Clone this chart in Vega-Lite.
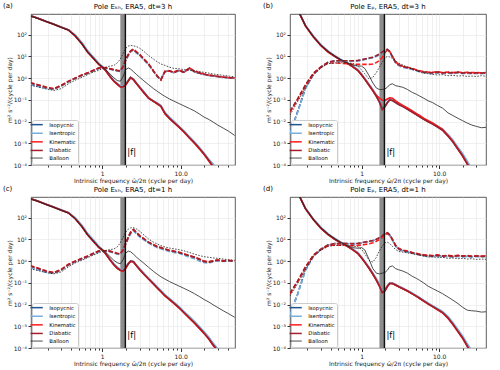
{
"$schema":"https://vega.github.io/schema/vega-lite/v6.json",
"padding":{"left":2,"top":1,"right":2,"bottom":1},
"background":"white",
"config":{
 "font":"DejaVu Sans",
 "view":{"stroke":"#333","strokeWidth":0.8},
 "title":{"font":"DejaVu Sans","fontSize":7,"fontWeight":"normal","color":"#000","offset":-8,"frame":"group"},
 "axis":{"labelFont":"DejaVu Sans","titleFont":"DejaVu Sans","labelFontSize":6,"titleFontSize":6,"titleFontWeight":"normal","labelColor":"#222","titleColor":"#222","tickColor":"#333","domain":false,"gridColor":"#e6e6e6","gridWidth":0.6,"labelPadding":1.5,"titlePadding":1},
 "legend":{"orient":"bottom-left","offset":1,"padding":2,"rowPadding":1.6,"symbolType":"M-1.75,0H1.75","symbolSize":49,"symbolStrokeWidth":1.5,"symbolFillColor":"transparent","labelFontSize":5.3,"labelFont":"DejaVu Sans","labelColor":"#000","labelOffset":10,"fillColor":"rgba(255,255,255,0.85)","strokeColor":"#cccccc","cornerRadius":2}
},
"datasets":{"d":[
{"p":"a","c":"s","f":0.12,"I":760,"S":760,"K":750,"D":755,"B":720},
{"p":"a","c":"s","f":0.15,"I":580,"S":585,"K":575,"D":578,"B":560},
{"p":"a","c":"s","f":0.19,"I":415,"S":420,"K":410,"D":412,"B":405},
{"p":"a","c":"s","f":0.24,"I":305,"S":310,"K":300,"D":302,"B":300},
{"p":"a","c":"s","f":0.3,"I":222,"S":228,"K":218,"D":220,"B":215},
{"p":"a","c":"s","f":0.37,"I":168,"S":172,"K":163,"D":165,"B":160},
{"p":"a","c":"s","f":0.45,"I":92,"S":100,"K":88,"D":90,"B":88},
{"p":"a","c":"s","f":0.55,"I":39,"S":44,"K":37,"D":38,"B":37},
{"p":"a","c":"s","f":0.65,"I":16.5,"S":18.5,"K":15.5,"D":16,"B":16},
{"p":"a","c":"s","f":0.77,"I":8.5,"S":9.5,"K":8,"D":8.2,"B":8.2},
{"p":"a","c":"s","f":0.9,"I":4.5,"S":5,"K":4.3,"D":4.4,"B":4.5},
{"p":"a","c":"s","f":1.0,"I":3.3,"S":3.5,"K":3.1,"D":3.2,"B":3.3},
{"p":"a","c":"s","f":1.1,"I":2.35,"S":2.5,"K":2.25,"D":2.3,"B":2.5},
{"p":"a","c":"s","f":1.25,"I":1.25,"S":1.35,"K":1.2,"D":1.22,"B":1.6},
{"p":"a","c":"s","f":1.4,"I":0.76,"S":0.82,"K":0.72,"D":0.74,"B":1.05},
{"p":"a","c":"s","f":1.55,"I":0.55,"S":0.58,"K":0.52,"D":0.54,"B":0.78},
{"p":"a","c":"s","f":1.7,"I":0.42,"S":0.44,"K":0.39,"D":0.4,"B":0.72},
{"p":"a","c":"s","f":1.85,"I":0.42,"S":0.44,"K":0.4,"D":0.41,"B":1.2},
{"p":"a","c":"s","f":2.0,"I":0.52,"S":0.55,"K":0.5,"D":0.5,"B":2.5},
{"p":"a","c":"s","f":2.15,"I":0.78,"S":0.8,"K":0.74,"D":0.75,"B":2.95},
{"p":"a","c":"s","f":2.3,"I":1.08,"S":1.1,"K":1.05,"D":1.06,"B":2.6},
{"p":"a","c":"s","f":2.5,"I":0.88,"S":0.9,"K":0.84,"D":0.85,"B":2.0},
{"p":"a","c":"s","f":2.75,"I":0.56,"S":0.6,"K":0.54,"D":0.55,"B":1.45},
{"p":"a","c":"s","f":3.0,"I":0.38,"S":0.4,"K":0.37,"D":0.37,"B":1.1},
{"p":"a","c":"s","f":3.4,"I":0.22,"S":0.24,"K":0.21,"D":0.22,"B":0.75},
{"p":"a","c":"s","f":3.9,"I":0.12,"S":0.13,"K":0.12,"D":0.12,"B":0.5},
{"p":"a","c":"s","f":4.5,"I":0.088,"S":0.09,"K":0.085,"D":0.086,"B":0.33},
{"p":"a","c":"s","f":5.1,"I":0.066,"S":0.07,"K":0.063,"D":0.065,"B":0.24},
{"p":"a","c":"s","f":5.6,"I":0.052,"S":0.056,"K":0.05,"D":0.051,"B":0.19},
{"p":"a","c":"s","f":6.3,"I":0.025,"S":0.027,"K":0.023,"D":0.024,"B":0.145},
{"p":"a","c":"s","f":7.2,"I":0.0145,"S":0.016,"K":0.014,"D":0.014,"B":0.11},
{"p":"a","c":"s","f":8.2,"I":0.0095,"S":0.0105,"K":0.009,"D":0.0092,"B":0.088},
{"p":"a","c":"s","f":9.5,"I":0.0058,"S":0.0062,"K":0.0055,"D":0.0057,"B":0.068},
{"p":"a","c":"s","f":11,"I":0.0035,"S":0.0038,"K":0.0033,"D":0.0034,"B":0.053},
{"p":"a","c":"s","f":13,"I":0.0019,"S":0.002,"K":0.0017,"D":0.0018,"B":0.04},
{"p":"a","c":"s","f":15,"I":0.0011,"S":0.00118,"K":0.001,"D":0.00105,"B":0.031},
{"p":"a","c":"s","f":17.5,"I":0.00058,"S":0.00062,"K":0.00054,"D":0.00056,"B":0.022},
{"p":"a","c":"s","f":20,"I":0.00033,"S":0.00035,"K":0.0003,"D":0.00031,"B":0.016},
{"p":"a","c":"s","f":23,"I":0.00017,"S":0.00018,"K":0.00015,"D":0.00016,"B":0.0125},
{"p":"a","c":"s","f":26,"I":0.0001,"S":0.00011,"K":0.00008,"D":0.000085,"B":0.0095},
{"p":"a","c":"s","f":30,"I":0.00005,"S":0.00006,"K":0.00004,"D":0.00004,"B":0.0068},
{"p":"a","c":"s","f":35,"B":0.005},
{"p":"a","c":"s","f":41,"B":0.0036},
{"p":"a","c":"s","f":49,"B":0.0023},
{"p":"a","c":"d","f":0.12,"I":0.52,"S":0.5,"K":0.62,"D":0.6,"B":0.47},
{"p":"a","c":"d","f":0.15,"I":0.43,"S":0.42,"K":0.5,"D":0.49,"B":0.4},
{"p":"a","c":"d","f":0.19,"I":0.35,"S":0.34,"K":0.39,"D":0.38,"B":0.32},
{"p":"a","c":"d","f":0.24,"I":0.31,"S":0.3,"K":0.33,"D":0.32,"B":0.27},
{"p":"a","c":"d","f":0.3,"I":0.44,"S":0.43,"K":0.47,"D":0.46,"B":0.33},
{"p":"a","c":"d","f":0.37,"I":0.68,"S":0.66,"K":0.72,"D":0.71,"B":0.55},
{"p":"a","c":"d","f":0.45,"I":0.97,"S":0.95,"K":1.0,"D":1.0,"B":0.8},
{"p":"a","c":"d","f":0.55,"I":1.35,"S":1.3,"K":1.4,"D":1.38,"B":1.1},
{"p":"a","c":"d","f":0.65,"I":1.7,"S":1.65,"K":1.75,"D":1.73,"B":1.45},
{"p":"a","c":"d","f":0.77,"I":2.2,"S":2.15,"K":2.3,"D":2.25,"B":1.9},
{"p":"a","c":"d","f":0.9,"I":2.85,"S":2.8,"K":2.95,"D":2.9,"B":2.3},
{"p":"a","c":"d","f":1.0,"I":3.0,"S":2.95,"K":3.05,"D":3.0,"B":2.7},
{"p":"a","c":"d","f":1.1,"I":2.9,"S":2.85,"K":3.0,"D":2.95,"B":3.2},
{"p":"a","c":"d","f":1.25,"I":2.65,"S":2.6,"K":2.75,"D":2.7,"B":3.6},
{"p":"a","c":"d","f":1.4,"I":2.4,"S":2.35,"K":2.5,"D":2.45,"B":3.8},
{"p":"a","c":"d","f":1.55,"I":2.2,"S":2.15,"K":2.3,"D":2.25,"B":5},
{"p":"a","c":"d","f":1.7,"I":2.1,"S":2.0,"K":2.15,"D":2.1,"B":7.5},
{"p":"a","c":"d","f":1.85,"I":3.4,"S":3.2,"K":3.6,"D":3.5,"B":14},
{"p":"a","c":"d","f":2.0,"I":7.0,"S":6.5,"K":7.5,"D":7.2,"B":24},
{"p":"a","c":"d","f":2.15,"I":11.5,"S":11,"K":12.5,"D":12,"B":30},
{"p":"a","c":"d","f":2.3,"I":17,"S":16,"K":18,"D":17.5,"B":32},
{"p":"a","c":"d","f":2.5,"I":21,"S":19,"K":22,"D":21,"B":31},
{"p":"a","c":"d","f":2.75,"I":15,"S":14,"K":16,"D":15.5,"B":28},
{"p":"a","c":"d","f":3.0,"I":12,"S":11,"K":12.5,"D":12,"B":24},
{"p":"a","c":"d","f":3.4,"I":7.3,"S":6.8,"K":7.6,"D":7.4,"B":17},
{"p":"a","c":"d","f":3.9,"I":4.4,"S":4.1,"K":4.6,"D":4.5,"B":11},
{"p":"a","c":"d","f":4.5,"I":2.1,"S":2.0,"K":2.2,"D":2.1,"B":7.5},
{"p":"a","c":"d","f":5.1,"I":1.15,"S":1.1,"K":1.2,"D":1.15,"B":5.5},
{"p":"a","c":"d","f":5.6,"I":0.85,"S":0.9,"K":0.82,"D":0.85,"B":4.5},
{"p":"a","c":"d","f":6.3,"I":2.0,"S":1.9,"K":2.1,"D":2.0,"B":3.9},
{"p":"a","c":"d","f":7.2,"I":2.2,"S":2.3,"K":2.1,"D":2.2,"B":3.2},
{"p":"a","c":"d","f":8.2,"I":1.8,"S":1.7,"K":1.9,"D":1.8,"B":2.8},
{"p":"a","c":"d","f":9.5,"I":2.3,"S":2.2,"K":2.4,"D":2.3,"B":2.7},
{"p":"a","c":"d","f":11,"I":1.9,"S":2.0,"K":1.8,"D":1.9,"B":2.5},
{"p":"a","c":"d","f":13,"I":2.8,"S":2.6,"K":3.0,"D":2.9,"B":2.3},
{"p":"a","c":"d","f":15,"I":2.0,"S":1.9,"K":2.1,"D":2.0,"B":2.2},
{"p":"a","c":"d","f":17.5,"I":1.7,"S":1.6,"K":1.8,"D":1.7,"B":2.0},
{"p":"a","c":"d","f":20,"I":1.5,"S":1.45,"K":1.55,"D":1.5,"B":1.85},
{"p":"a","c":"d","f":23,"I":1.35,"S":1.3,"K":1.4,"D":1.35,"B":1.7},
{"p":"a","c":"d","f":26,"I":1.3,"S":1.25,"K":1.3,"D":1.3,"B":1.55},
{"p":"a","c":"d","f":30,"I":1.2,"S":1.15,"K":1.2,"D":1.2,"B":1.45},
{"p":"a","c":"d","f":35,"I":1.1,"S":1.08,"K":1.12,"D":1.1,"B":1.35},
{"p":"a","c":"d","f":41,"I":1.05,"S":1.03,"K":1.06,"D":1.05,"B":1.25},
{"p":"a","c":"d","f":49,"I":1.0,"S":0.98,"K":1.02,"D":1.0,"B":1.15},
{"p":"c","c":"s","f":0.12,"I":770,"S":770,"K":760,"D":765,"B":730},
{"p":"c","c":"s","f":0.15,"I":585,"S":590,"K":580,"D":582,"B":565},
{"p":"c","c":"s","f":0.19,"I":420,"S":425,"K":415,"D":418,"B":410},
{"p":"c","c":"s","f":0.24,"I":308,"S":312,"K":302,"D":305,"B":300},
{"p":"c","c":"s","f":0.3,"I":225,"S":230,"K":220,"D":222,"B":218},
{"p":"c","c":"s","f":0.37,"I":170,"S":175,"K":165,"D":168,"B":162},
{"p":"c","c":"s","f":0.45,"I":95,"S":102,"K":90,"D":92,"B":90},
{"p":"c","c":"s","f":0.55,"I":40,"S":45,"K":38,"D":39,"B":38},
{"p":"c","c":"s","f":0.65,"I":17,"S":19,"K":16,"D":16.5,"B":16.5},
{"p":"c","c":"s","f":0.77,"I":8.6,"S":9.6,"K":8.1,"D":8.3,"B":8.4},
{"p":"c","c":"s","f":0.9,"I":4.5,"S":5,"K":4.3,"D":4.4,"B":4.6},
{"p":"c","c":"s","f":1.0,"I":3.3,"S":3.5,"K":3.1,"D":3.2,"B":3.4},
{"p":"c","c":"s","f":1.1,"I":2.3,"S":2.45,"K":2.2,"D":2.25,"B":2.6},
{"p":"c","c":"s","f":1.25,"I":1.2,"S":1.3,"K":1.15,"D":1.18,"B":1.65},
{"p":"c","c":"s","f":1.4,"I":0.72,"S":0.78,"K":0.68,"D":0.7,"B":1.1},
{"p":"c","c":"s","f":1.55,"I":0.5,"S":0.54,"K":0.47,"D":0.48,"B":0.85},
{"p":"c","c":"s","f":1.7,"I":0.39,"S":0.42,"K":0.37,"D":0.38,"B":0.75},
{"p":"c","c":"s","f":1.85,"I":0.37,"S":0.4,"K":0.35,"D":0.36,"B":1.2},
{"p":"c","c":"s","f":2.0,"I":0.5,"S":0.52,"K":0.48,"D":0.49,"B":2.4},
{"p":"c","c":"s","f":2.15,"I":0.78,"S":0.8,"K":0.75,"D":0.76,"B":2.9},
{"p":"c","c":"s","f":2.3,"I":1.0,"S":1.02,"K":0.98,"D":0.99,"B":2.7},
{"p":"c","c":"s","f":2.5,"I":0.95,"S":0.97,"K":0.92,"D":0.93,"B":2.1},
{"p":"c","c":"s","f":2.75,"I":0.62,"S":0.65,"K":0.6,"D":0.6,"B":1.5},
{"p":"c","c":"s","f":3.0,"I":0.42,"S":0.45,"K":0.41,"D":0.41,"B":1.15},
{"p":"c","c":"s","f":3.4,"I":0.26,"S":0.28,"K":0.25,"D":0.25,"B":0.8},
{"p":"c","c":"s","f":3.9,"I":0.155,"S":0.165,"K":0.15,"D":0.15,"B":0.52},
{"p":"c","c":"s","f":4.5,"I":0.092,"S":0.1,"K":0.088,"D":0.09,"B":0.34},
{"p":"c","c":"s","f":5.1,"I":0.058,"S":0.063,"K":0.055,"D":0.056,"B":0.24},
{"p":"c","c":"s","f":5.6,"I":0.041,"S":0.045,"K":0.039,"D":0.04,"B":0.19},
{"p":"c","c":"s","f":6.3,"I":0.027,"S":0.029,"K":0.025,"D":0.026,"B":0.15},
{"p":"c","c":"s","f":7.2,"I":0.018,"S":0.0195,"K":0.017,"D":0.0175,"B":0.115},
{"p":"c","c":"s","f":8.2,"I":0.012,"S":0.013,"K":0.0113,"D":0.0116,"B":0.092},
{"p":"c","c":"s","f":9.5,"I":0.0076,"S":0.0082,"K":0.0071,"D":0.0073,"B":0.072},
{"p":"c","c":"s","f":11,"I":0.0045,"S":0.0049,"K":0.0042,"D":0.0043,"B":0.056},
{"p":"c","c":"s","f":13,"I":0.0025,"S":0.0028,"K":0.0023,"D":0.0024,"B":0.042},
{"p":"c","c":"s","f":15,"I":0.0015,"S":0.0017,"K":0.0014,"D":0.00145,"B":0.032},
{"p":"c","c":"s","f":17.5,"I":0.00085,"S":0.00095,"K":0.00078,"D":0.0008,"B":0.023},
{"p":"c","c":"s","f":20,"I":0.0005,"S":0.00056,"K":0.00046,"D":0.00048,"B":0.017},
{"p":"c","c":"s","f":23,"I":0.00028,"S":0.00031,"K":0.00025,"D":0.00026,"B":0.013},
{"p":"c","c":"s","f":26,"I":0.00015,"S":0.00017,"K":0.00013,"D":0.00014,"B":0.0098},
{"p":"c","c":"s","f":30,"I":0.00008,"S":0.00009,"K":0.00007,"D":0.000072,"B":0.0072},
{"p":"c","c":"s","f":35,"B":0.0052},
{"p":"c","c":"s","f":41,"B":0.0038},
{"p":"c","c":"s","f":49,"B":0.0026},
{"p":"c","c":"d","f":0.12,"I":0.52,"S":0.5,"K":0.62,"D":0.6,"B":0.45},
{"p":"c","c":"d","f":0.15,"I":0.42,"S":0.4,"K":0.48,"D":0.47,"B":0.37},
{"p":"c","c":"d","f":0.19,"I":0.32,"S":0.31,"K":0.36,"D":0.35,"B":0.3},
{"p":"c","c":"d","f":0.24,"I":0.28,"S":0.27,"K":0.3,"D":0.29,"B":0.26},
{"p":"c","c":"d","f":0.3,"I":0.4,"S":0.38,"K":0.42,"D":0.41,"B":0.32},
{"p":"c","c":"d","f":0.37,"I":0.68,"S":0.65,"K":0.72,"D":0.7,"B":0.55},
{"p":"c","c":"d","f":0.45,"I":0.95,"S":0.92,"K":1.0,"D":0.98,"B":0.82},
{"p":"c","c":"d","f":0.55,"I":1.3,"S":1.25,"K":1.35,"D":1.32,"B":1.1},
{"p":"c","c":"d","f":0.65,"I":1.65,"S":1.6,"K":1.72,"D":1.7,"B":1.45},
{"p":"c","c":"d","f":0.77,"I":2.2,"S":2.1,"K":2.3,"D":2.25,"B":1.9},
{"p":"c","c":"d","f":0.9,"I":2.85,"S":2.7,"K":2.95,"D":2.9,"B":2.4},
{"p":"c","c":"d","f":1.0,"I":3.0,"S":2.9,"K":3.05,"D":3.0,"B":2.8},
{"p":"c","c":"d","f":1.1,"I":2.95,"S":2.85,"K":3.0,"D":2.95,"B":3.1},
{"p":"c","c":"d","f":1.25,"I":2.8,"S":2.7,"K":2.9,"D":2.85,"B":3.4},
{"p":"c","c":"d","f":1.4,"I":2.5,"S":2.4,"K":2.6,"D":2.55,"B":3.6},
{"p":"c","c":"d","f":1.55,"I":2.2,"S":2.1,"K":2.3,"D":2.25,"B":4.5},
{"p":"c","c":"d","f":1.7,"I":2.1,"S":2.0,"K":2.2,"D":2.15,"B":7},
{"p":"c","c":"d","f":1.85,"I":3.2,"S":3.0,"K":3.4,"D":3.3,"B":13},
{"p":"c","c":"d","f":2.0,"I":6.5,"S":6,"K":7,"D":6.8,"B":22},
{"p":"c","c":"d","f":2.15,"I":12,"S":11,"K":13,"D":12.5,"B":30},
{"p":"c","c":"d","f":2.3,"I":20,"S":18,"K":22,"D":21,"B":34},
{"p":"c","c":"d","f":2.5,"I":27,"S":25,"K":29,"D":28,"B":35},
{"p":"c","c":"d","f":2.75,"I":19,"S":17,"K":21,"D":20,"B":30},
{"p":"c","c":"d","f":3.0,"I":14,"S":13,"K":15,"D":14.5,"B":24},
{"p":"c","c":"d","f":3.4,"I":10,"S":9.5,"K":11,"D":10.5,"B":16},
{"p":"c","c":"d","f":3.9,"I":7.2,"S":6.8,"K":7.5,"D":7.3,"B":10.5},
{"p":"c","c":"d","f":4.5,"I":5.5,"S":5.1,"K":5.8,"D":5.6,"B":7.5},
{"p":"c","c":"d","f":5.1,"I":4.4,"S":4.1,"K":4.6,"D":4.5,"B":6},
{"p":"c","c":"d","f":5.6,"I":4.0,"S":3.7,"K":4.2,"D":4.1,"B":5.2},
{"p":"c","c":"d","f":6.3,"I":3.5,"S":3.2,"K":3.7,"D":3.6,"B":4.5},
{"p":"c","c":"d","f":7.2,"I":3.0,"S":2.8,"K":3.2,"D":3.1,"B":4.0},
{"p":"c","c":"d","f":8.2,"I":2.8,"S":2.5,"K":2.9,"D":2.8,"B":3.7},
{"p":"c","c":"d","f":9.5,"I":2.5,"S":2.3,"K":2.6,"D":2.5,"B":3.4},
{"p":"c","c":"d","f":11,"I":2.1,"S":1.9,"K":2.2,"D":2.1,"B":3.0},
{"p":"c","c":"d","f":13,"I":1.7,"S":1.5,"K":1.8,"D":1.75,"B":2.5},
{"p":"c","c":"d","f":15,"I":1.5,"S":1.3,"K":1.55,"D":1.5,"B":2.1},
{"p":"c","c":"d","f":17.5,"I":1.2,"S":1.0,"K":1.25,"D":1.2,"B":1.8},
{"p":"c","c":"d","f":20,"I":0.95,"S":0.85,"K":1.0,"D":0.95,"B":1.6},
{"p":"c","c":"d","f":23,"I":0.9,"S":0.8,"K":0.95,"D":0.9,"B":1.5},
{"p":"c","c":"d","f":26,"I":1.0,"S":0.95,"K":1.05,"D":1.0,"B":1.4},
{"p":"c","c":"d","f":30,"I":1.1,"S":1.05,"K":1.15,"D":1.1,"B":1.35},
{"p":"c","c":"d","f":35,"I":1.0,"S":0.98,"K":1.05,"D":1.0,"B":1.25},
{"p":"c","c":"d","f":41,"I":1.05,"S":1.0,"K":1.1,"D":1.05,"B":1.15},
{"p":"c","c":"d","f":49,"I":1.0,"S":0.98,"K":1.02,"D":1.0,"B":1.1},
{"p":"b","c":"s","f":0.12,"I":6000,"S":6000,"K":6000,"D":6000,"B":6000},
{"p":"b","c":"s","f":0.15,"I":1500,"S":1550,"K":1450,"D":1480,"B":1500},
{"p":"b","c":"s","f":0.19,"I":260,"S":270,"K":250,"D":255,"B":255},
{"p":"b","c":"s","f":0.24,"I":82,"S":86,"K":78,"D":80,"B":80},
{"p":"b","c":"s","f":0.3,"I":33,"S":35,"K":31,"D":32,"B":33},
{"p":"b","c":"s","f":0.37,"I":17,"S":18,"K":16,"D":16.5,"B":17},
{"p":"b","c":"s","f":0.45,"I":10.5,"S":11,"K":10,"D":10.2,"B":10.5},
{"p":"b","c":"s","f":0.55,"I":6.8,"S":7.1,"K":6.5,"D":6.6,"B":6.8},
{"p":"b","c":"s","f":0.65,"I":5.0,"S":5.2,"K":4.8,"D":4.9,"B":5.0},
{"p":"b","c":"s","f":0.77,"I":3.5,"S":3.7,"K":3.3,"D":3.4,"B":4.0},
{"p":"b","c":"s","f":0.9,"I":2.3,"S":2.45,"K":2.2,"D":2.25,"B":3.6},
{"p":"b","c":"s","f":1.0,"I":1.45,"S":1.55,"K":1.4,"D":1.42,"B":3.6},
{"p":"b","c":"s","f":1.1,"I":0.92,"S":1.0,"K":0.9,"D":0.9,"B":2.8},
{"p":"b","c":"s","f":1.25,"I":0.48,"S":0.52,"K":0.47,"D":0.47,"B":1.3},
{"p":"b","c":"s","f":1.4,"I":0.27,"S":0.3,"K":0.27,"D":0.26,"B":0.6},
{"p":"b","c":"s","f":1.55,"I":0.15,"S":0.17,"K":0.16,"D":0.145,"B":0.35},
{"p":"b","c":"s","f":1.7,"I":0.08,"S":0.11,"K":0.12,"D":0.078,"B":0.3},
{"p":"b","c":"s","f":1.85,"I":0.038,"S":0.085,"K":0.095,"D":0.036,"B":0.3},
{"p":"b","c":"s","f":2.0,"I":0.05,"S":0.09,"K":0.095,"D":0.048,"B":0.32},
{"p":"b","c":"s","f":2.15,"I":0.075,"S":0.105,"K":0.11,"D":0.073,"B":0.38},
{"p":"b","c":"s","f":2.3,"I":0.1,"S":0.12,"K":0.125,"D":0.098,"B":0.5},
{"p":"b","c":"s","f":2.5,"I":0.095,"S":0.112,"K":0.12,"D":0.093,"B":0.55},
{"p":"b","c":"s","f":2.75,"I":0.076,"S":0.088,"K":0.09,"D":0.074,"B":0.45},
{"p":"b","c":"s","f":3.0,"I":0.063,"S":0.07,"K":0.072,"D":0.061,"B":0.42},
{"p":"b","c":"s","f":3.4,"I":0.05,"S":0.054,"K":0.056,"D":0.049,"B":0.38},
{"p":"b","c":"s","f":3.9,"I":0.038,"S":0.04,"K":0.042,"D":0.037,"B":0.3},
{"p":"b","c":"s","f":4.5,"I":0.028,"S":0.03,"K":0.031,"D":0.027,"B":0.22},
{"p":"b","c":"s","f":5.1,"I":0.021,"S":0.023,"K":0.023,"D":0.0205,"B":0.18},
{"p":"b","c":"s","f":5.6,"I":0.017,"S":0.018,"K":0.019,"D":0.0165,"B":0.15},
{"p":"b","c":"s","f":6.3,"I":0.013,"S":0.014,"K":0.0145,"D":0.0127,"B":0.12},
{"p":"b","c":"s","f":7.2,"I":0.01,"S":0.011,"K":0.011,"D":0.0098,"B":0.09},
{"p":"b","c":"s","f":8.2,"I":0.0078,"S":0.0085,"K":0.0086,"D":0.0076,"B":0.075},
{"p":"b","c":"s","f":9.5,"I":0.0058,"S":0.0063,"K":0.0062,"D":0.0056,"B":0.055},
{"p":"b","c":"s","f":11,"I":0.0042,"S":0.0046,"K":0.0044,"D":0.004,"B":0.042},
{"p":"b","c":"s","f":13,"I":0.0022,"S":0.0025,"K":0.0023,"D":0.0021,"B":0.025},
{"p":"b","c":"s","f":15,"I":0.0012,"S":0.0014,"K":0.0012,"D":0.00115,"B":0.019},
{"p":"b","c":"s","f":17.5,"I":0.00055,"S":0.00065,"K":0.00053,"D":0.00052,"B":0.014},
{"p":"b","c":"s","f":20,"I":0.00028,"S":0.00034,"K":0.00026,"D":0.00026,"B":0.011},
{"p":"b","c":"s","f":23,"I":0.00012,"S":0.00015,"K":0.00011,"D":0.00011,"B":0.0085},
{"p":"b","c":"s","f":26,"I":0.00006,"S":0.00007,"K":0.00005,"D":0.00005,"B":0.007},
{"p":"b","c":"s","f":30,"B":0.006},
{"p":"b","c":"s","f":35,"B":0.0052},
{"p":"b","c":"s","f":41,"B":0.0055},
{"p":"b","c":"d","f":0.12,"I":0.003,"S":0.0028,"K":0.027,"D":0.03,"B":0.02},
{"p":"b","c":"d","f":0.15,"I":0.028,"S":0.026,"K":0.1,"D":0.11,"B":0.08},
{"p":"b","c":"d","f":0.19,"I":0.35,"S":0.33,"K":0.45,"D":0.5,"B":0.35},
{"p":"b","c":"d","f":0.24,"I":1.5,"S":1.45,"K":1.6,"D":1.7,"B":1.4},
{"p":"b","c":"d","f":0.3,"I":3.2,"S":3.1,"K":3.2,"D":3.3,"B":3.0},
{"p":"b","c":"d","f":0.37,"I":5.3,"S":5.2,"K":5.0,"D":5.4,"B":4.6},
{"p":"b","c":"d","f":0.45,"I":6.2,"S":6.1,"K":5.0,"D":6.3,"B":5.0},
{"p":"b","c":"d","f":0.55,"I":6.3,"S":6.2,"K":4.8,"D":6.4,"B":5.2},
{"p":"b","c":"d","f":0.65,"I":6.2,"S":6.0,"K":4.6,"D":6.3,"B":5.0},
{"p":"b","c":"d","f":0.77,"I":6.2,"S":6.0,"K":4.4,"D":6.3,"B":4.8},
{"p":"b","c":"d","f":0.9,"I":6.4,"S":6.2,"K":4.3,"D":6.5,"B":3.6},
{"p":"b","c":"d","f":1.0,"I":6.8,"S":6.6,"K":4.3,"D":7.0,"B":2.4},
{"p":"b","c":"d","f":1.1,"I":7.4,"S":7.2,"K":4.3,"D":7.6,"B":1.6},
{"p":"b","c":"d","f":1.25,"I":8.2,"S":8.0,"K":4.3,"D":8.4,"B":0.9},
{"p":"b","c":"d","f":1.4,"I":9.0,"S":8.8,"K":4.5,"D":9.2,"B":1.1},
{"p":"b","c":"d","f":1.55,"I":10.5,"S":10,"K":5.2,"D":10.8,"B":1.8},
{"p":"b","c":"d","f":1.7,"I":12.5,"S":12,"K":6.5,"D":13,"B":3.2},
{"p":"b","c":"d","f":1.85,"I":15.5,"S":15,"K":9,"D":16,"B":5.5},
{"p":"b","c":"d","f":2.0,"I":19,"S":18,"K":15,"D":19.5,"B":8.5},
{"p":"b","c":"d","f":2.15,"I":21,"S":20,"K":20,"D":21,"B":10},
{"p":"b","c":"d","f":2.3,"I":17,"S":16,"K":17,"D":17,"B":9.5},
{"p":"b","c":"d","f":2.5,"I":9.5,"S":9,"K":10,"D":9.8,"B":8.0},
{"p":"b","c":"d","f":2.75,"I":5.2,"S":5,"K":5.5,"D":5.3,"B":6.2},
{"p":"b","c":"d","f":3.0,"I":4.0,"S":3.8,"K":4.3,"D":4.1,"B":5.0},
{"p":"b","c":"d","f":3.4,"I":3.3,"S":3.1,"K":3.5,"D":3.4,"B":4.0},
{"p":"b","c":"d","f":3.9,"I":3.0,"S":2.8,"K":3.2,"D":3.0,"B":3.2},
{"p":"b","c":"d","f":4.5,"I":2.6,"S":2.5,"K":2.8,"D":2.7,"B":2.6},
{"p":"b","c":"d","f":5.1,"I":2.3,"S":2.2,"K":2.4,"D":2.3,"B":2.2},
{"p":"b","c":"d","f":5.6,"I":2.1,"S":2.0,"K":2.2,"D":2.1,"B":1.9},
{"p":"b","c":"d","f":6.3,"I":1.9,"S":1.8,"K":2.0,"D":1.9,"B":1.7},
{"p":"b","c":"d","f":7.2,"I":1.8,"S":1.7,"K":1.9,"D":1.85,"B":1.6},
{"p":"b","c":"d","f":8.2,"I":1.7,"S":1.6,"K":1.85,"D":1.75,"B":1.5},
{"p":"b","c":"d","f":9.5,"I":1.9,"S":1.8,"K":2.0,"D":1.9,"B":1.4},
{"p":"b","c":"d","f":11,"I":1.7,"S":1.6,"K":1.8,"D":1.75,"B":1.45},
{"p":"b","c":"d","f":13,"I":1.8,"S":1.7,"K":1.9,"D":1.8,"B":1.3},
{"p":"b","c":"d","f":15,"I":1.7,"S":1.6,"K":1.8,"D":1.75,"B":1.35},
{"p":"b","c":"d","f":17.5,"I":1.85,"S":1.75,"K":1.9,"D":1.85,"B":1.25},
{"p":"b","c":"d","f":20,"I":1.7,"S":1.6,"K":1.8,"D":1.7,"B":1.3},
{"p":"b","c":"d","f":23,"I":1.75,"S":1.65,"K":1.85,"D":1.8,"B":1.2},
{"p":"b","c":"d","f":26,"I":1.7,"S":1.6,"K":1.8,"D":1.7,"B":1.25},
{"p":"b","c":"d","f":30,"I":1.75,"S":1.65,"K":1.8,"D":1.75,"B":1.2},
{"p":"b","c":"d","f":35,"I":1.7,"S":1.6,"K":1.75,"D":1.7,"B":1.3},
{"p":"b","c":"d","f":41,"I":1.75,"S":1.65,"K":1.8,"D":1.75,"B":1.2},
{"p":"d","c":"s","f":0.12,"I":6000,"S":6000,"K":6000,"D":6000,"B":6000},
{"p":"d","c":"s","f":0.15,"I":1500,"S":1550,"K":1450,"D":1480,"B":1500},
{"p":"d","c":"s","f":0.19,"I":265,"S":275,"K":255,"D":260,"B":260},
{"p":"d","c":"s","f":0.24,"I":84,"S":88,"K":80,"D":82,"B":82},
{"p":"d","c":"s","f":0.3,"I":34,"S":36,"K":32,"D":33,"B":34},
{"p":"d","c":"s","f":0.37,"I":17.5,"S":18.5,"K":16.5,"D":17,"B":17.5},
{"p":"d","c":"s","f":0.45,"I":10.8,"S":11.3,"K":10.2,"D":10.5,"B":10.8},
{"p":"d","c":"s","f":0.55,"I":7,"S":7.3,"K":6.7,"D":6.8,"B":7},
{"p":"d","c":"s","f":0.65,"I":5.1,"S":5.3,"K":4.9,"D":5,"B":5.1},
{"p":"d","c":"s","f":0.77,"I":3.5,"S":3.7,"K":3.3,"D":3.4,"B":4.2},
{"p":"d","c":"s","f":0.9,"I":2.3,"S":2.45,"K":2.2,"D":2.25,"B":3.9},
{"p":"d","c":"s","f":1.0,"I":1.45,"S":1.55,"K":1.4,"D":1.42,"B":4.2},
{"p":"d","c":"s","f":1.1,"I":0.92,"S":1.0,"K":0.9,"D":0.9,"B":3.3},
{"p":"d","c":"s","f":1.25,"I":0.48,"S":0.52,"K":0.47,"D":0.47,"B":1.2},
{"p":"d","c":"s","f":1.4,"I":0.26,"S":0.29,"K":0.25,"D":0.25,"B":0.45},
{"p":"d","c":"s","f":1.55,"I":0.14,"S":0.16,"K":0.135,"D":0.135,"B":0.28},
{"p":"d","c":"s","f":1.7,"I":0.075,"S":0.085,"K":0.07,"D":0.072,"B":0.26},
{"p":"d","c":"s","f":1.85,"I":0.038,"S":0.042,"K":0.036,"D":0.036,"B":0.28},
{"p":"d","c":"s","f":2.0,"I":0.045,"S":0.048,"K":0.043,"D":0.044,"B":0.3},
{"p":"d","c":"s","f":2.15,"I":0.07,"S":0.073,"K":0.068,"D":0.069,"B":0.38},
{"p":"d","c":"s","f":2.3,"I":0.095,"S":0.1,"K":0.093,"D":0.094,"B":0.55},
{"p":"d","c":"s","f":2.5,"I":0.095,"S":0.1,"K":0.093,"D":0.094,"B":0.6},
{"p":"d","c":"s","f":2.75,"I":0.08,"S":0.084,"K":0.078,"D":0.079,"B":0.45},
{"p":"d","c":"s","f":3.0,"I":0.068,"S":0.072,"K":0.066,"D":0.067,"B":0.4},
{"p":"d","c":"s","f":3.4,"I":0.055,"S":0.058,"K":0.054,"D":0.054,"B":0.35},
{"p":"d","c":"s","f":3.9,"I":0.043,"S":0.045,"K":0.042,"D":0.042,"B":0.28},
{"p":"d","c":"s","f":4.5,"I":0.032,"S":0.034,"K":0.031,"D":0.031,"B":0.2},
{"p":"d","c":"s","f":5.1,"I":0.025,"S":0.026,"K":0.024,"D":0.024,"B":0.16},
{"p":"d","c":"s","f":5.6,"I":0.02,"S":0.021,"K":0.019,"D":0.0195,"B":0.13},
{"p":"d","c":"s","f":6.3,"I":0.015,"S":0.016,"K":0.0145,"D":0.0147,"B":0.1},
{"p":"d","c":"s","f":7.2,"I":0.011,"S":0.012,"K":0.0105,"D":0.0107,"B":0.07},
{"p":"d","c":"s","f":8.2,"I":0.0085,"S":0.009,"K":0.008,"D":0.0082,"B":0.055},
{"p":"d","c":"s","f":9.5,"I":0.0062,"S":0.0066,"K":0.0058,"D":0.006,"B":0.042},
{"p":"d","c":"s","f":11,"I":0.0045,"S":0.0048,"K":0.0042,"D":0.0043,"B":0.032},
{"p":"d","c":"s","f":13,"I":0.0025,"S":0.0028,"K":0.0023,"D":0.0024,"B":0.022},
{"p":"d","c":"s","f":15,"I":0.0013,"S":0.0015,"K":0.0012,"D":0.00125,"B":0.016},
{"p":"d","c":"s","f":17.5,"I":0.0006,"S":0.0007,"K":0.00055,"D":0.00057,"B":0.011},
{"p":"d","c":"s","f":20,"I":0.0003,"S":0.00036,"K":0.00028,"D":0.00029,"B":0.0075},
{"p":"d","c":"s","f":23,"I":0.00013,"S":0.00016,"K":0.00012,"D":0.00012,"B":0.0055},
{"p":"d","c":"s","f":26,"I":0.00006,"S":0.00008,"K":0.00005,"D":0.00005,"B":0.0052},
{"p":"d","c":"s","f":30,"B":0.005},
{"p":"d","c":"s","f":35,"B":0.0045},
{"p":"d","c":"s","f":41,"B":0.0047},
{"p":"d","c":"d","f":0.12,"I":0.0037,"S":0.0035,"K":0.031,"D":0.033,"B":0.025},
{"p":"d","c":"d","f":0.15,"I":0.03,"S":0.028,"K":0.11,"D":0.12,"B":0.09},
{"p":"d","c":"d","f":0.19,"I":0.4,"S":0.38,"K":0.5,"D":0.55,"B":0.4},
{"p":"d","c":"d","f":0.24,"I":1.7,"S":1.6,"K":1.8,"D":1.9,"B":1.6},
{"p":"d","c":"d","f":0.3,"I":3.5,"S":3.4,"K":3.4,"D":3.6,"B":3.2},
{"p":"d","c":"d","f":0.37,"I":5.5,"S":5.4,"K":5.1,"D":5.6,"B":4.8},
{"p":"d","c":"d","f":0.45,"I":6.4,"S":6.3,"K":5.5,"D":6.5,"B":5.3},
{"p":"d","c":"d","f":0.55,"I":6.5,"S":6.4,"K":5.4,"D":6.6,"B":5.4},
{"p":"d","c":"d","f":0.65,"I":6.4,"S":6.3,"K":5.3,"D":6.5,"B":5.2},
{"p":"d","c":"d","f":0.77,"I":6.3,"S":6.2,"K":5.2,"D":6.4,"B":5.0},
{"p":"d","c":"d","f":0.9,"I":6.5,"S":6.4,"K":5.3,"D":6.6,"B":4.5},
{"p":"d","c":"d","f":1.0,"I":6.9,"S":6.7,"K":5.5,"D":7.0,"B":3.5},
{"p":"d","c":"d","f":1.1,"I":7.4,"S":7.2,"K":5.8,"D":7.6,"B":2.2},
{"p":"d","c":"d","f":1.25,"I":8.0,"S":7.8,"K":6.3,"D":8.2,"B":1.1},
{"p":"d","c":"d","f":1.4,"I":8.8,"S":8.6,"K":7.0,"D":9.0,"B":0.9},
{"p":"d","c":"d","f":1.55,"I":10,"S":9.7,"K":8.2,"D":10.3,"B":1.5},
{"p":"d","c":"d","f":1.7,"I":11.5,"S":11,"K":9.8,"D":12,"B":3.0},
{"p":"d","c":"d","f":1.85,"I":14,"S":13.5,"K":12.5,"D":14.5,"B":5.0},
{"p":"d","c":"d","f":2.0,"I":18,"S":17,"K":16.5,"D":18.5,"B":7.0},
{"p":"d","c":"d","f":2.15,"I":20,"S":19,"K":19,"D":20.5,"B":7.5},
{"p":"d","c":"d","f":2.3,"I":16,"S":15,"K":16,"D":16.5,"B":6.5},
{"p":"d","c":"d","f":2.5,"I":9.5,"S":9,"K":10,"D":9.8,"B":4.8},
{"p":"d","c":"d","f":2.75,"I":5.0,"S":4.8,"K":5.3,"D":5.1,"B":3.4},
{"p":"d","c":"d","f":3.0,"I":3.6,"S":3.5,"K":3.9,"D":3.7,"B":2.8},
{"p":"d","c":"d","f":3.4,"I":3.0,"S":2.9,"K":3.2,"D":3.1,"B":2.6},
{"p":"d","c":"d","f":3.9,"I":2.7,"S":2.6,"K":2.9,"D":2.8,"B":2.4},
{"p":"d","c":"d","f":4.5,"I":2.4,"S":2.3,"K":2.5,"D":2.4,"B":2.2},
{"p":"d","c":"d","f":5.1,"I":2.2,"S":2.1,"K":2.3,"D":2.2,"B":2.0},
{"p":"d","c":"d","f":5.6,"I":2.0,"S":1.9,"K":2.1,"D":2.0,"B":1.9},
{"p":"d","c":"d","f":6.3,"I":1.85,"S":1.75,"K":1.95,"D":1.9,"B":1.7},
{"p":"d","c":"d","f":7.2,"I":1.75,"S":1.65,"K":1.85,"D":1.8,"B":1.55},
{"p":"d","c":"d","f":8.2,"I":1.7,"S":1.6,"K":1.8,"D":1.75,"B":1.6},
{"p":"d","c":"d","f":9.5,"I":1.8,"S":1.7,"K":1.95,"D":1.85,"B":1.45},
{"p":"d","c":"d","f":11,"I":1.65,"S":1.55,"K":1.75,"D":1.7,"B":1.5},
{"p":"d","c":"d","f":13,"I":1.75,"S":1.65,"K":1.85,"D":1.8,"B":1.35},
{"p":"d","c":"d","f":15,"I":1.6,"S":1.5,"K":1.7,"D":1.65,"B":1.4},
{"p":"d","c":"d","f":17.5,"I":1.75,"S":1.65,"K":1.85,"D":1.8,"B":1.3},
{"p":"d","c":"d","f":20,"I":1.65,"S":1.55,"K":1.75,"D":1.7,"B":1.35},
{"p":"d","c":"d","f":23,"I":1.7,"S":1.6,"K":1.8,"D":1.75,"B":1.25},
{"p":"d","c":"d","f":26,"I":1.6,"S":1.55,"K":1.7,"D":1.65,"B":1.3},
{"p":"d","c":"d","f":30,"I":1.7,"S":1.6,"K":1.75,"D":1.7,"B":1.2},
{"p":"d","c":"d","f":35,"I":1.65,"S":1.55,"K":1.7,"D":1.65,"B":1.25},
{"p":"d","c":"d","f":41,"I":1.7,"S":1.6,"K":1.75,"D":1.7,"B":1.2}
]},
"spacing":0,
"resolve":{"scale":{"color":"independent"}},
"vconcat":[
{"hconcat":[
{"width":204,"height":151,"title":"Pole Eₖₕ, ERA5, dt=3 h","data":{"name":"d"},
 "layer":[
  {"data":{"values":[{"f":1.7,"f2":1.95}]},"mark":{"type":"rect","color":"#8c8c8c"},"encoding":{"x":{"field":"f","type":"quantitative","scale":{"type":"log","domain":[0.123,49.5],"nice":false}},"x2":{"field":"f2"}}},
  {"transform":[{"filter":"datum.p=='a' && datum.c=='s'"},{"fold":["I","S","K","D"],"as":["m","v"]},{"filter":"datum.v>0"}],
   "mark":{"type":"line","strokeWidth":1.6,"clip":true},
   "encoding":{"x":{"field":"f","type":"quantitative","scale":{"type":"log","domain":[0.123,49.5],"nice":false},"axis":{"title":"Intrinsic frequency ω̂/2π (cycle per day)","values":[0.2,0.3,0.4,0.5,0.6,0.7,0.8,0.9,1,2,3,4,5,6,7,8,9,10,20,30,40],"labelExpr":"datum.value==1?'1':datum.value==10?'10.0':''","tickSize":{"condition":{"test":"datum.value==1||datum.value==10","value":3.5},"value":2}}},
    "y":{"field":"v","type":"quantitative","scale":{"type":"log","domain":[0.0001,900],"nice":false},"axis":{"title":"m² s⁻²/(cycle per day)","values":[0.0001,0.001,0.01,0.1,1,10,100],"tickSize":3,"labelExpr":"datum.value==100?'10²':datum.value==10?'10¹':datum.value==1?'10⁰':datum.value==0.1?'10⁻¹':datum.value==0.01?'10⁻²':datum.value==0.001?'10⁻³':'10⁻⁴'"}},
    "color":{"field":"m","type":"nominal","scale":{"domain":["I","S","K","D","B"],"range":["#1f5591","#78aedb","#ff1a1a","#a31f29","#222222"]},"legend":{"title":null,"labelExpr":"datum.label=='I'?'Isopycnic':datum.label=='S'?'Isentropic':datum.label=='K'?'Kinematic':datum.label=='D'?'Diabatic':'Balloon'","encode":{"symbols":{"update":{"strokeWidth":{"signal":"datum.value=='B'?0.8:1.5"}}}}}}}},
  {"transform":[{"filter":"datum.p=='a' && datum.c=='d'"},{"fold":["I","S","K","D"],"as":["m","v"]},{"filter":"datum.v>0"}],
   "mark":{"type":"line","strokeWidth":1.6,"strokeDash":[4.5,2],"clip":true},
   "encoding":{"x":{"field":"f","type":"quantitative","scale":{"type":"log","domain":[0.123,49.5],"nice":false}},"y":{"field":"v","type":"quantitative","scale":{"type":"log","domain":[0.0001,900],"nice":false}},"color":{"field":"m","type":"nominal"}}},
  {"transform":[{"filter":"datum.p=='a' && datum.c=='s'"},{"fold":["B"],"as":["m","v"]},{"filter":"datum.v>0"}],
   "mark":{"type":"line","strokeWidth":0.8,"clip":true},
   "encoding":{"x":{"field":"f","type":"quantitative","scale":{"type":"log","domain":[0.123,49.5],"nice":false}},"y":{"field":"v","type":"quantitative","scale":{"type":"log","domain":[0.0001,900],"nice":false}},"color":{"field":"m","type":"nominal"}}},
  {"transform":[{"filter":"datum.p=='a' && datum.c=='d'"},{"fold":["B"],"as":["m","v"]},{"filter":"datum.v>0"}],
   "mark":{"type":"line","strokeWidth":0.8,"strokeDash":[1.6,1.4],"clip":true},
   "encoding":{"x":{"field":"f","type":"quantitative","scale":{"type":"log","domain":[0.123,49.5],"nice":false}},"y":{"field":"v","type":"quantitative","scale":{"type":"log","domain":[0.0001,900],"nice":false}},"color":{"field":"m","type":"nominal"}}},
  {"data":{"values":[{"f":1.97}]},"mark":{"type":"rule","color":"#111","strokeWidth":1.4},"encoding":{"x":{"field":"f","type":"quantitative","scale":{"type":"log","domain":[0.123,49.5],"nice":false}}}},
  {"data":{"values":[{"f":1.97,"v":0.0004,"t":"|f|"}]},"mark":{"type":"text","align":"left","baseline":"middle","dx":2,"fontSize":8.5,"font":"DejaVu Sans"},"encoding":{"x":{"field":"f","type":"quantitative","scale":{"type":"log","domain":[0.123,49.5],"nice":false}},"y":{"field":"v","type":"quantitative","scale":{"type":"log","domain":[0.0001,900],"nice":false}},"text":{"field":"t"}}},
  {"data":{"values":[{"f":0.123,"v":900,"t":"(a)"}]},"mark":{"type":"text","align":"left","baseline":"middle","dx":-28,"dy":-8,"fontSize":7,"font":"DejaVu Sans","clip":false},"encoding":{"x":{"field":"f","type":"quantitative","scale":{"type":"log","domain":[0.123,49.5],"nice":false}},"y":{"field":"v","type":"quantitative","scale":{"type":"log","domain":[0.0001,900],"nice":false}},"text":{"field":"t"}}}
 ]},
{"width":196,"height":151,"title":"Pole Eₚ, ERA5, dt=3 h","data":{"name":"d"},
 "layer":[
  {"data":{"values":[{"f":1.7,"f2":1.95}]},"mark":{"type":"rect","color":"#8c8c8c"},"encoding":{"x":{"field":"f","type":"quantitative","scale":{"type":"log","domain":[0.12,40],"nice":false}},"x2":{"field":"f2"}}},
  {"transform":[{"filter":"datum.p=='b' && datum.c=='s'"},{"fold":["I","S","K","D"],"as":["m","v"]},{"filter":"datum.v>0"}],
   "mark":{"type":"line","strokeWidth":1.6,"clip":true},
   "encoding":{"x":{"field":"f","type":"quantitative","scale":{"type":"log","domain":[0.12,40],"nice":false},"axis":{"title":"Intrinsic frequency ω̂/2π (cycle per day)","values":[0.2,0.3,0.4,0.5,0.6,0.7,0.8,0.9,1,2,3,4,5,6,7,8,9,10,20,30],"labelExpr":"datum.value==1?'1':datum.value==10?'10.0':''","tickSize":{"condition":{"test":"datum.value==1||datum.value==10","value":3.5},"value":2}}},
    "y":{"field":"v","type":"quantitative","scale":{"type":"log","domain":[0.0001,900],"nice":false},"axis":{"title":"m² s⁻²/(cycle per day)","values":[0.0001,0.001,0.01,0.1,1,10,100],"tickSize":3,"labelExpr":"datum.value==100?'10²':datum.value==10?'10¹':datum.value==1?'10⁰':datum.value==0.1?'10⁻¹':datum.value==0.01?'10⁻²':datum.value==0.001?'10⁻³':'10⁻⁴'"}},
    "color":{"field":"m","type":"nominal","scale":{"domain":["I","S","K","D","B"],"range":["#1f5591","#78aedb","#ff1a1a","#a31f29","#222222"]},"legend":{"title":null,"labelExpr":"datum.label=='I'?'Isopycnic':datum.label=='S'?'Isentropic':datum.label=='K'?'Kinematic':datum.label=='D'?'Diabatic':'Balloon'","encode":{"symbols":{"update":{"strokeWidth":{"signal":"datum.value=='B'?0.8:1.5"}}}}}}}},
  {"transform":[{"filter":"datum.p=='b' && datum.c=='d'"},{"fold":["I","S","K","D"],"as":["m","v"]},{"filter":"datum.v>0"}],
   "mark":{"type":"line","strokeWidth":1.6,"strokeDash":[4.5,2],"clip":true},
   "encoding":{"x":{"field":"f","type":"quantitative","scale":{"type":"log","domain":[0.12,40],"nice":false}},"y":{"field":"v","type":"quantitative","scale":{"type":"log","domain":[0.0001,900],"nice":false}},"color":{"field":"m","type":"nominal"}}},
  {"transform":[{"filter":"datum.p=='b' && datum.c=='s'"},{"fold":["B"],"as":["m","v"]},{"filter":"datum.v>0"}],
   "mark":{"type":"line","strokeWidth":0.8,"clip":true},
   "encoding":{"x":{"field":"f","type":"quantitative","scale":{"type":"log","domain":[0.12,40],"nice":false}},"y":{"field":"v","type":"quantitative","scale":{"type":"log","domain":[0.0001,900],"nice":false}},"color":{"field":"m","type":"nominal"}}},
  {"transform":[{"filter":"datum.p=='b' && datum.c=='d'"},{"fold":["B"],"as":["m","v"]},{"filter":"datum.v>0"}],
   "mark":{"type":"line","strokeWidth":0.8,"strokeDash":[1.6,1.4],"clip":true},
   "encoding":{"x":{"field":"f","type":"quantitative","scale":{"type":"log","domain":[0.12,40],"nice":false}},"y":{"field":"v","type":"quantitative","scale":{"type":"log","domain":[0.0001,900],"nice":false}},"color":{"field":"m","type":"nominal"}}},
  {"data":{"values":[{"f":1.97}]},"mark":{"type":"rule","color":"#111","strokeWidth":1.4},"encoding":{"x":{"field":"f","type":"quantitative","scale":{"type":"log","domain":[0.12,40],"nice":false}}}},
  {"data":{"values":[{"f":1.97,"v":0.0004,"t":"|f|"}]},"mark":{"type":"text","align":"left","baseline":"middle","dx":2,"fontSize":8.5,"font":"DejaVu Sans"},"encoding":{"x":{"field":"f","type":"quantitative","scale":{"type":"log","domain":[0.12,40],"nice":false}},"y":{"field":"v","type":"quantitative","scale":{"type":"log","domain":[0.0001,900],"nice":false}},"text":{"field":"t"}}},
  {"data":{"values":[{"f":0.12,"v":900,"t":"(b)"}]},"mark":{"type":"text","align":"left","baseline":"middle","dx":-27,"dy":-8,"fontSize":7,"font":"DejaVu Sans","clip":false},"encoding":{"x":{"field":"f","type":"quantitative","scale":{"type":"log","domain":[0.12,40],"nice":false}},"y":{"field":"v","type":"quantitative","scale":{"type":"log","domain":[0.0001,900],"nice":false}},"text":{"field":"t"}}}
 ]}
],"spacing":26,"resolve":{"scale":{"color":"independent"}}},
{"hconcat":[
{"width":204,"height":151,"title":"Pole Eₖₕ, ERA5, dt=1 h","data":{"name":"d"},
 "layer":[
  {"data":{"values":[{"f":1.7,"f2":1.95}]},"mark":{"type":"rect","color":"#8c8c8c"},"encoding":{"x":{"field":"f","type":"quantitative","scale":{"type":"log","domain":[0.123,49.5],"nice":false}},"x2":{"field":"f2"}}},
  {"transform":[{"filter":"datum.p=='c' && datum.c=='s'"},{"fold":["I","S","K","D"],"as":["m","v"]},{"filter":"datum.v>0"}],
   "mark":{"type":"line","strokeWidth":1.6,"clip":true},
   "encoding":{"x":{"field":"f","type":"quantitative","scale":{"type":"log","domain":[0.123,49.5],"nice":false},"axis":{"title":"Intrinsic frequency ω̂/2π (cycle per day)","values":[0.2,0.3,0.4,0.5,0.6,0.7,0.8,0.9,1,2,3,4,5,6,7,8,9,10,20,30,40],"labelExpr":"datum.value==1?'1':datum.value==10?'10.0':''","tickSize":{"condition":{"test":"datum.value==1||datum.value==10","value":3.5},"value":2}}},
    "y":{"field":"v","type":"quantitative","scale":{"type":"log","domain":[0.0001,900],"nice":false},"axis":{"title":"m² s⁻²/(cycle per day)","values":[0.0001,0.001,0.01,0.1,1,10,100],"tickSize":3,"labelExpr":"datum.value==100?'10²':datum.value==10?'10¹':datum.value==1?'10⁰':datum.value==0.1?'10⁻¹':datum.value==0.01?'10⁻²':datum.value==0.001?'10⁻³':'10⁻⁴'"}},
    "color":{"field":"m","type":"nominal","scale":{"domain":["I","S","K","D","B"],"range":["#1f5591","#78aedb","#ff1a1a","#a31f29","#222222"]},"legend":{"title":null,"labelExpr":"datum.label=='I'?'Isopycnic':datum.label=='S'?'Isentropic':datum.label=='K'?'Kinematic':datum.label=='D'?'Diabatic':'Balloon'","encode":{"symbols":{"update":{"strokeWidth":{"signal":"datum.value=='B'?0.8:1.5"}}}}}}}},
  {"transform":[{"filter":"datum.p=='c' && datum.c=='d'"},{"fold":["I","S","K","D"],"as":["m","v"]},{"filter":"datum.v>0"}],
   "mark":{"type":"line","strokeWidth":1.6,"strokeDash":[4.5,2],"clip":true},
   "encoding":{"x":{"field":"f","type":"quantitative","scale":{"type":"log","domain":[0.123,49.5],"nice":false}},"y":{"field":"v","type":"quantitative","scale":{"type":"log","domain":[0.0001,900],"nice":false}},"color":{"field":"m","type":"nominal"}}},
  {"transform":[{"filter":"datum.p=='c' && datum.c=='s'"},{"fold":["B"],"as":["m","v"]},{"filter":"datum.v>0"}],
   "mark":{"type":"line","strokeWidth":0.8,"clip":true},
   "encoding":{"x":{"field":"f","type":"quantitative","scale":{"type":"log","domain":[0.123,49.5],"nice":false}},"y":{"field":"v","type":"quantitative","scale":{"type":"log","domain":[0.0001,900],"nice":false}},"color":{"field":"m","type":"nominal"}}},
  {"transform":[{"filter":"datum.p=='c' && datum.c=='d'"},{"fold":["B"],"as":["m","v"]},{"filter":"datum.v>0"}],
   "mark":{"type":"line","strokeWidth":0.8,"strokeDash":[1.6,1.4],"clip":true},
   "encoding":{"x":{"field":"f","type":"quantitative","scale":{"type":"log","domain":[0.123,49.5],"nice":false}},"y":{"field":"v","type":"quantitative","scale":{"type":"log","domain":[0.0001,900],"nice":false}},"color":{"field":"m","type":"nominal"}}},
  {"data":{"values":[{"f":1.97}]},"mark":{"type":"rule","color":"#111","strokeWidth":1.4},"encoding":{"x":{"field":"f","type":"quantitative","scale":{"type":"log","domain":[0.123,49.5],"nice":false}}}},
  {"data":{"values":[{"f":1.97,"v":0.0004,"t":"|f|"}]},"mark":{"type":"text","align":"left","baseline":"middle","dx":2,"fontSize":8.5,"font":"DejaVu Sans"},"encoding":{"x":{"field":"f","type":"quantitative","scale":{"type":"log","domain":[0.123,49.5],"nice":false}},"y":{"field":"v","type":"quantitative","scale":{"type":"log","domain":[0.0001,900],"nice":false}},"text":{"field":"t"}}},
  {"data":{"values":[{"f":0.123,"v":900,"t":"(c)"}]},"mark":{"type":"text","align":"left","baseline":"middle","dx":-28,"dy":-8,"fontSize":7,"font":"DejaVu Sans","clip":false},"encoding":{"x":{"field":"f","type":"quantitative","scale":{"type":"log","domain":[0.123,49.5],"nice":false}},"y":{"field":"v","type":"quantitative","scale":{"type":"log","domain":[0.0001,900],"nice":false}},"text":{"field":"t"}}}
 ]},
{"width":196,"height":151,"title":"Pole Eₚ, ERA5, dt=1 h","data":{"name":"d"},
 "layer":[
  {"data":{"values":[{"f":1.7,"f2":1.95}]},"mark":{"type":"rect","color":"#8c8c8c"},"encoding":{"x":{"field":"f","type":"quantitative","scale":{"type":"log","domain":[0.12,40],"nice":false}},"x2":{"field":"f2"}}},
  {"transform":[{"filter":"datum.p=='d' && datum.c=='s'"},{"fold":["I","S","K","D"],"as":["m","v"]},{"filter":"datum.v>0"}],
   "mark":{"type":"line","strokeWidth":1.6,"clip":true},
   "encoding":{"x":{"field":"f","type":"quantitative","scale":{"type":"log","domain":[0.12,40],"nice":false},"axis":{"title":"Intrinsic frequency ω̂/2π (cycle per day)","values":[0.2,0.3,0.4,0.5,0.6,0.7,0.8,0.9,1,2,3,4,5,6,7,8,9,10,20,30],"labelExpr":"datum.value==1?'1':datum.value==10?'10.0':''","tickSize":{"condition":{"test":"datum.value==1||datum.value==10","value":3.5},"value":2}}},
    "y":{"field":"v","type":"quantitative","scale":{"type":"log","domain":[0.0001,900],"nice":false},"axis":{"title":"m² s⁻²/(cycle per day)","values":[0.0001,0.001,0.01,0.1,1,10,100],"tickSize":3,"labelExpr":"datum.value==100?'10²':datum.value==10?'10¹':datum.value==1?'10⁰':datum.value==0.1?'10⁻¹':datum.value==0.01?'10⁻²':datum.value==0.001?'10⁻³':'10⁻⁴'"}},
    "color":{"field":"m","type":"nominal","scale":{"domain":["I","S","K","D","B"],"range":["#1f5591","#78aedb","#ff1a1a","#a31f29","#222222"]},"legend":{"title":null,"labelExpr":"datum.label=='I'?'Isopycnic':datum.label=='S'?'Isentropic':datum.label=='K'?'Kinematic':datum.label=='D'?'Diabatic':'Balloon'","encode":{"symbols":{"update":{"strokeWidth":{"signal":"datum.value=='B'?0.8:1.5"}}}}}}}},
  {"transform":[{"filter":"datum.p=='d' && datum.c=='d'"},{"fold":["I","S","K","D"],"as":["m","v"]},{"filter":"datum.v>0"}],
   "mark":{"type":"line","strokeWidth":1.6,"strokeDash":[4.5,2],"clip":true},
   "encoding":{"x":{"field":"f","type":"quantitative","scale":{"type":"log","domain":[0.12,40],"nice":false}},"y":{"field":"v","type":"quantitative","scale":{"type":"log","domain":[0.0001,900],"nice":false}},"color":{"field":"m","type":"nominal"}}},
  {"transform":[{"filter":"datum.p=='d' && datum.c=='s'"},{"fold":["B"],"as":["m","v"]},{"filter":"datum.v>0"}],
   "mark":{"type":"line","strokeWidth":0.8,"clip":true},
   "encoding":{"x":{"field":"f","type":"quantitative","scale":{"type":"log","domain":[0.12,40],"nice":false}},"y":{"field":"v","type":"quantitative","scale":{"type":"log","domain":[0.0001,900],"nice":false}},"color":{"field":"m","type":"nominal"}}},
  {"transform":[{"filter":"datum.p=='d' && datum.c=='d'"},{"fold":["B"],"as":["m","v"]},{"filter":"datum.v>0"}],
   "mark":{"type":"line","strokeWidth":0.8,"strokeDash":[1.6,1.4],"clip":true},
   "encoding":{"x":{"field":"f","type":"quantitative","scale":{"type":"log","domain":[0.12,40],"nice":false}},"y":{"field":"v","type":"quantitative","scale":{"type":"log","domain":[0.0001,900],"nice":false}},"color":{"field":"m","type":"nominal"}}},
  {"data":{"values":[{"f":1.97}]},"mark":{"type":"rule","color":"#111","strokeWidth":1.4},"encoding":{"x":{"field":"f","type":"quantitative","scale":{"type":"log","domain":[0.12,40],"nice":false}}}},
  {"data":{"values":[{"f":1.97,"v":0.0004,"t":"|f|"}]},"mark":{"type":"text","align":"left","baseline":"middle","dx":2,"fontSize":8.5,"font":"DejaVu Sans"},"encoding":{"x":{"field":"f","type":"quantitative","scale":{"type":"log","domain":[0.12,40],"nice":false}},"y":{"field":"v","type":"quantitative","scale":{"type":"log","domain":[0.0001,900],"nice":false}},"text":{"field":"t"}}},
  {"data":{"values":[{"f":0.12,"v":900,"t":"(d)"}]},"mark":{"type":"text","align":"left","baseline":"middle","dx":-27,"dy":-8,"fontSize":7,"font":"DejaVu Sans","clip":false},"encoding":{"x":{"field":"f","type":"quantitative","scale":{"type":"log","domain":[0.12,40],"nice":false}},"y":{"field":"v","type":"quantitative","scale":{"type":"log","domain":[0.0001,900],"nice":false}},"text":{"field":"t"}}}
 ]}
],"spacing":26,"resolve":{"scale":{"color":"independent"}}}
]
}
